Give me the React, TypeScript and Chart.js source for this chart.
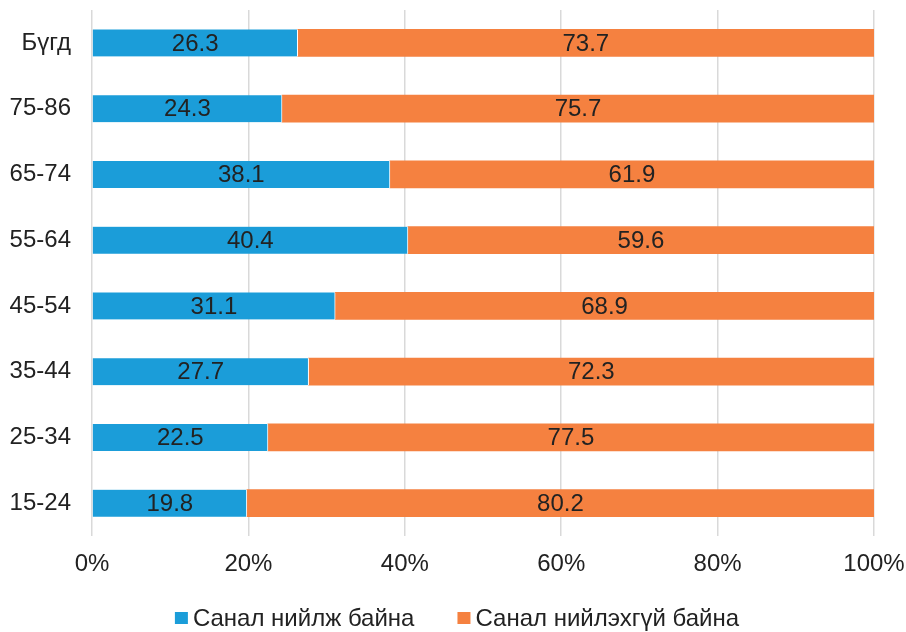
import React, { useEffect, useRef } from "react";
import { Chart, registerables } from "chart.js";

Chart.register(...registerables);

const categories = ["Бүгд", "75-86", "65-74", "55-64", "45-54", "35-44", "25-34", "15-24"];
const agreeValues = [26.3, 24.3, 38.1, 40.4, 31.1, 27.7, 22.5, 19.8];
const disagreeValues = [73.7, 75.7, 61.9, 59.6, 68.9, 72.3, 77.5, 80.2];
const seriesNames = ["Санал нийлж байна", "Санал нийлэхгүй байна"];
const FONT = "'Liberation Sans', Arial, sans-serif";
const TEXT = "#222222";

const labelPlugin = {
  id: "barLabels",
  afterDatasetsDraw(chart: any) {
    const ctx = chart.ctx;
    ctx.save();
    ctx.font = `24px ${FONT}`;
    ctx.fillStyle = TEXT;
    ctx.textAlign = "center";
    ctx.textBaseline = "middle";
    chart.data.datasets.forEach((ds: any, di: number) => {
      const meta = chart.getDatasetMeta(di);
      meta.data.forEach((el: any, i: number) => {
        const cx = (el.x + el.base) / 2;
        ctx.fillText(ds.data[i].toFixed(1), cx, el.y + 1);
      });
    });
    ctx.restore();
  },
};

const legendPlugin = {
  id: "customLegend",
  afterDraw(chart: any) {
    const ctx = chart.ctx;
    ctx.save();
    ctx.font = `24px ${FONT}`;
    ctx.textBaseline = "middle";
    ctx.textAlign = "left";
    const box = 13, gapText = 5, gapItem = 43;
    const items = chart.data.datasets.map((ds: any) => ({ text: ds.label, color: ds.backgroundColor, w: ctx.measureText(ds.label).width }));
    const total = items.reduce((a: number, it: any) => a + box + gapText + it.w, 0) + gapItem * (items.length - 1);
    let x = 457 - total / 2;
    const cy = chart.height - 14;
    items.forEach((it: any) => {
      ctx.fillStyle = it.color;
      ctx.fillRect(x, cy - 6, box, 12);
      x += box + gapText;
      ctx.fillStyle = TEXT;
      ctx.fillText(it.text, x, cy + 1);
      x += it.w + gapItem;
    });
    ctx.restore();
  },
};

export default function App() {
  const ref = useRef<HTMLCanvasElement>(null);
  useEffect(() => {
    document.body.style.margin = "0";
    const chart = new Chart(ref.current!, {
      type: "bar",
      data: {
        labels: categories,
        datasets: [
          { label: seriesNames[0], data: agreeValues, backgroundColor: "#1b9dd9", borderColor: "#ffffff", borderWidth: { right: 1 } as any, borderSkipped: false },
          { label: seriesNames[1], data: disagreeValues, backgroundColor: "#f58140", borderColor: "#ffffff", borderWidth: 0 },
        ],
      },
      options: {
        indexAxis: "y",
        animation: false,
        responsive: false,
        maintainAspectRatio: false,
        barThickness: 27,
        layout: { padding: { top: 10, right: 32, left: 0, bottom: 48 } },
        scales: {
          x: {
            stacked: true,
            min: 0,
            max: 100,
            ticks: { stepSize: 20, callback: (v: any) => v + "%", color: TEXT, font: { family: FONT, size: 24 }, padding: 14, maxRotation: 0 },
            grid: { color: "#d9d9d9", lineWidth: 1.5, drawTicks: false },
            border: { display: false },
            afterFit: (s: any) => { s.height = 48; s.paddingLeft = 0; s.paddingRight = 0; },
          },
          y: {
            stacked: true,
            ticks: { color: TEXT, font: { family: FONT, size: 24 }, padding: 21 },
            grid: { display: false, drawTicks: false },
            border: { display: false },
            afterFit: (s: any) => { s.width = 92; s.paddingTop = 0; s.paddingBottom = 0; },
          },
        },
        plugins: {
          legend: { display: false },
          tooltip: { enabled: false },
        },
      } as any,
      plugins: [labelPlugin, legendPlugin],
    });
    return () => chart.destroy();
  }, []);
  return <canvas ref={ref} width={906} height={632} style={{ display: "block" }} />;
}
